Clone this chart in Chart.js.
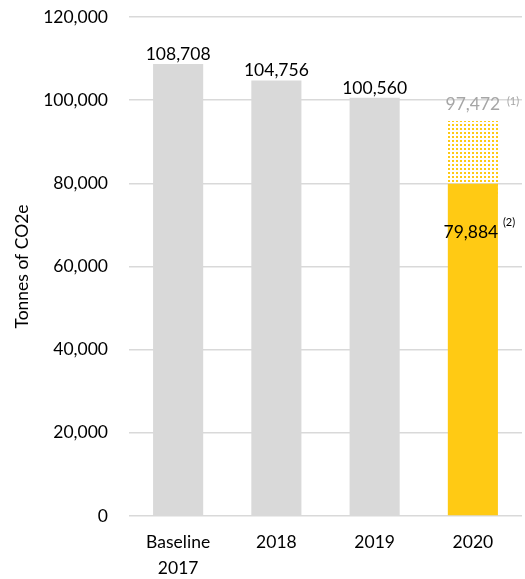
<!DOCTYPE html>
<html>
<head>
<meta charset="utf-8">
<script src="https://cdn.jsdelivr.net/npm/chart.js@4"></script>
<style>
  html, body { margin: 0; padding: 0; background: #fff; }
  #wrap { width: 525px; height: 579px; }
</style>
</head>
<body>
<div id="wrap"><canvas id="co2Chart" width="525" height="579"></canvas></div>
<script>
const ctx = document.getElementById('co2Chart');

/* data */
const kategori = [['Baseline', '2017'], '2018', '2019', '2020'];
const emisi = [108708, 104756, 100560, 79884];
const estimasi = [null, null, null, 97472];        // grey label over the dotted bar
const estimasiTampak = [null, null, null, 95000];   // top of the dotted box as drawn
const yTicks = [0, 20000, 40000, 60000, 80000, 100000, 120000];

const ABU = '#d9d9d9';
const KUNING = '#ffca14';
const FONT = 'Lato, "DejaVu Sans", sans-serif';
const FS = 17.5;

function fmt(v){ return v.toLocaleString('en-US'); }

/* dotted fill for the estimated part */
function buatPola(){
  const c = document.createElement('canvas');
  c.width = 4; c.height = 4;
  const g = c.getContext('2d');
  g.fillStyle = KUNING;
  g.fillRect(0, 0, 2, 2);
  return g.createPattern(c, 'repeat');
}

/* value labels drawn through the y scale */
const labelPlugin = {
  id: 'labelNilai',
  afterDatasetsDraw(chart){
    const g = chart.ctx;
    const x = chart.scales.x, y = chart.scales.y;
    g.save();
    g.textBaseline = 'alphabetic';
    emisi.forEach((v, i) => {
      const cx = x.getPixelForValue(i);
      g.font = FS + 'px ' + FONT;
      g.textAlign = 'center';
      if (estimasi[i] != null) {
        // solid value inside the bar
        g.fillStyle = '#000';
        g.fillText(fmt(v), cx - 2, y.getPixelForValue(v) + 54);
        // estimate label
        g.fillStyle = '#a6a6a6';
        g.fillText(fmt(estimasi[i]), cx, y.getPixelForValue(estimasi[i]) - 1);
        g.font = '11px ' + FONT;
        g.textAlign = 'left';
        g.fillText('(1)', cx + 34, y.getPixelForValue(estimasi[i]) - 6);
        g.fillStyle = '#000';
        g.fillText('(2)', cx + 30, y.getPixelForValue(v) + 42);
      } else {
        g.fillStyle = '#000';
        g.fillText(fmt(v), cx, y.getPixelForValue(v) - 4);
      }
    });
    g.restore();
  }
};

new Chart(ctx, {
  type: 'bar',
  data: {
    labels: kategori,
    datasets: [
      {
        label: 'Tonnes of CO2e',
        data: emisi,
        backgroundColor: emisi.map((v, i) => i === emisi.length - 1 ? KUNING : ABU),
        grouped: false,
        barPercentage: 0.51,
        categoryPercentage: 1,
        order: 1
      },
      {
        label: 'Estimate',
        data: estimasiTampak.map((v, i) => v == null ? null : [emisi[i] - 3000, v]),
        backgroundColor: buatPola(),
        grouped: false,
        barPercentage: 0.54,
        categoryPercentage: 1,
        order: 2
      }
    ]
  },
  options: {
    responsive: false,
    animation: false,
    layout: { padding: { top: 17, right: 3, left: 0, bottom: 0 } },
    plugins: {
      legend: { display: false },
      tooltip: { enabled: false }
    },
    scales: {
      x: {
        grid: { display: false },
        border: { display: false },
        ticks: {
          color: '#000',
          font: { family: FONT, size: FS, lineHeight: 1.45 },
          padding: 6,
          maxRotation: 0
        },
        afterFit: s => { s.height = 63; }
      },
      y: {
        min: 0,
        max: 120000,
        afterBuildTicks: s => { s.ticks = yTicks.map(v => ({ value: v })); },
        grid: { color: ABU, lineWidth: 1.5, drawTicks: false },
        border: { display: false },
        ticks: {
          color: '#000',
          font: { family: FONT, size: FS },
          padding: 21,
          callback: v => fmt(v)
        },
        title: {
          display: true,
          text: 'Tonnes of CO2e',
          color: '#000',
          font: { family: FONT, size: FS },
          padding: { top: 12, bottom: 0 }
        },
        afterFit: s => { s.width = 129; s.paddingTop = 0; s.paddingBottom = 0; }
      }
    }
  },
  plugins: [labelPlugin]
});
</script>
</body>
</html>
